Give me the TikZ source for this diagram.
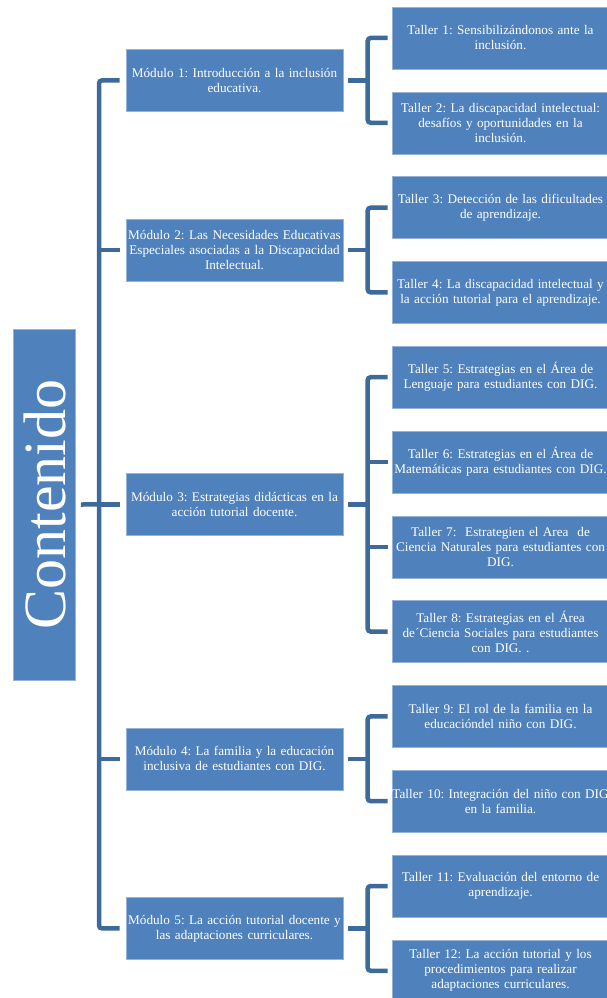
\documentclass[tikz,border=0pt]{standalone}
\usepackage{fontspec}
\setmainfont{Liberation Serif}
\usepackage{tikz}
\usetikzlibrary{calc}
\frenchspacing

\definecolor{boxblue}{RGB}{79,129,189}
\definecolor{lineblue}{RGB}{62,106,154}

\begin{document}
\begin{tikzpicture}[x=1pt,y=-1pt,
    modbox/.style={fill=boxblue,draw=boxblue!60!white,line width=0.6pt,text=white,
      text width=217pt,minimum height=62pt,inner sep=0pt,align=center,
      font=\fontsize{13.2}{15}\selectfont},
    tallerbox/.style={modbox},
    conn/.style={draw=lineblue,line width=4.5pt,rounded corners=3pt}]
  \useasboundingbox (0,0) rectangle (607,998);

  \node[modbox,text width=,minimum width=351pt,rotate=90,font=\fontsize{60}{64}\selectfont] (cont) at (44.5,504.5) {Contenido};

  \node[modbox] (m1) at (234.5, 80.4) {\mbox{Módulo 1: Introducción a la inclusión}\\educativa.};
  \node[modbox] (m2) at (234.5,250.0) {\mbox{Módulo 2: Las Necesidades Educativas}\\\mbox{Especiales asociadas a la Discapacidad}\\Intelectual.};
  \node[modbox] (m3) at (234.5,504.4) {\mbox{Módulo 3: Estrategias didácticas en la}\\\mbox{acción tutorial docente.}};
  \node[modbox] (m4) at (234.5,758.8) {\mbox{Módulo 4: La familia y la educación}\\\mbox{inclusiva de estudiantes con DIG.}};
  \node[modbox] (m5) at (234.5,928.4) {\mbox{Módulo 5: La acción tutorial docente y}\\\mbox{las adaptaciones curriculares.}};

  \node[tallerbox] (t1)  at (500.5, 38.0) {\mbox{Taller 1: Sensibilizándonos ante la}\\inclusión.};
  \node[tallerbox] (t2)  at (500.5,122.8) {\mbox{Taller 2: La discapacidad intelectual:}\\\mbox{desafíos y oportunidades en la}\\inclusión.};
  \node[tallerbox] (t3)  at (500.5,207.6) {\mbox{Taller 3: Detección de las dificultades}\\\mbox{de aprendizaje.}};
  \node[tallerbox] (t4)  at (500.5,292.4) {\mbox{Taller 4: La discapacidad intelectual y}\\\mbox{la acción tutorial para el aprendizaje.}};
  \node[tallerbox] (t5)  at (500.5,377.2) {\mbox{Taller 5: Estrategias en el Área de}\\\mbox{Lenguaje para estudiantes con DIG.}};
  \node[tallerbox] (t6)  at (500.5,462.0) {\mbox{Taller 6: Estrategias en el Área de}\\\mbox{Matemáticas para estudiantes con DIG.}};
  \node[tallerbox] (t7)  at (500.5,546.8) {\mbox{Taller 7:\ \ Estrategien el Area\ \ de}\\\mbox{Ciencia Naturales para estudiantes con}\\DIG.};
  \node[tallerbox] (t8)  at (500.5,631.6) {\mbox{Taller 8: Estrategias en el Área}\\\mbox{de´Ciencia Sociales para estudiantes}\\\mbox{con DIG. .}};
  \node[tallerbox] (t9)  at (500.5,716.4) {\mbox{Taller 9: El rol de la familia en la}\\\mbox{educacióndel\ niño con DIG.}};
  \node[tallerbox] (t10) at (500.5,801.2) {\mbox{Taller 10: Integración del niño con DIG}\\\mbox{en la familia.}};
  \node[tallerbox] (t11) at (500.5,886.0) {\mbox{Taller 11: Evaluación del entorno de}\\aprendizaje.};
  \node[tallerbox] (t12) at (500.5,970.8) {\mbox{Taller 12: La acción tutorial y los}\\\mbox{procedimientos para realizar}\\\mbox{adaptaciones curriculares.}};

  % tronco principal
  \coordinate (spine) at (99,0);
  \draw[conn] ([xshift=-6pt]m1.west) -| (m5.west -| spine) -- ([xshift=-6pt]m5.west);
  \draw[conn] (m2.west -| spine) -- ([xshift=-6pt]m2.west);
  \draw[conn] (m3.west -| spine) -- ([xshift=-6pt]m3.west);
  \draw[conn] (m4.west -| spine) -- ([xshift=-6pt]m4.west);
  \draw[conn] ([xshift=5pt]cont.south) -- ([xshift=-6pt]m3.west);

  % modulo 1
  \draw[conn] ([xshift=5pt]m1.east) -- ([xshift=25pt]m1.east);
  \draw[conn] ([xshift=-4pt]t1.west) -| ([xshift=-24pt]t2.west) -- ([xshift=-4pt]t2.west);
  % modulo 2
  \draw[conn] ([xshift=5pt]m2.east) -- ([xshift=25pt]m2.east);
  \draw[conn] ([xshift=-4pt]t3.west) -| ([xshift=-24pt]t4.west) -- ([xshift=-4pt]t4.west);
  % modulo 3
  \draw[conn] ([xshift=5pt]m3.east) -- ([xshift=25pt]m3.east);
  \draw[conn] ([xshift=-4pt]t5.west) -| ([xshift=-24pt]t8.west) -- ([xshift=-4pt]t8.west);
  \draw[conn] ([xshift=-24pt]t6.west) -- ([xshift=-4pt]t6.west);
  \draw[conn] ([xshift=-24pt]t7.west) -- ([xshift=-4pt]t7.west);
  % modulo 4
  \draw[conn] ([xshift=5pt]m4.east) -- ([xshift=25pt]m4.east);
  \draw[conn] ([xshift=-4pt]t9.west) -| ([xshift=-24pt]t10.west) -- ([xshift=-4pt]t10.west);
  % modulo 5
  \draw[conn] ([xshift=5pt]m5.east) -- ([xshift=25pt]m5.east);
  \draw[conn] ([xshift=-4pt]t11.west) -| ([xshift=-24pt]t12.west) -- ([xshift=-4pt]t12.west);
\end{tikzpicture}
\end{document}
